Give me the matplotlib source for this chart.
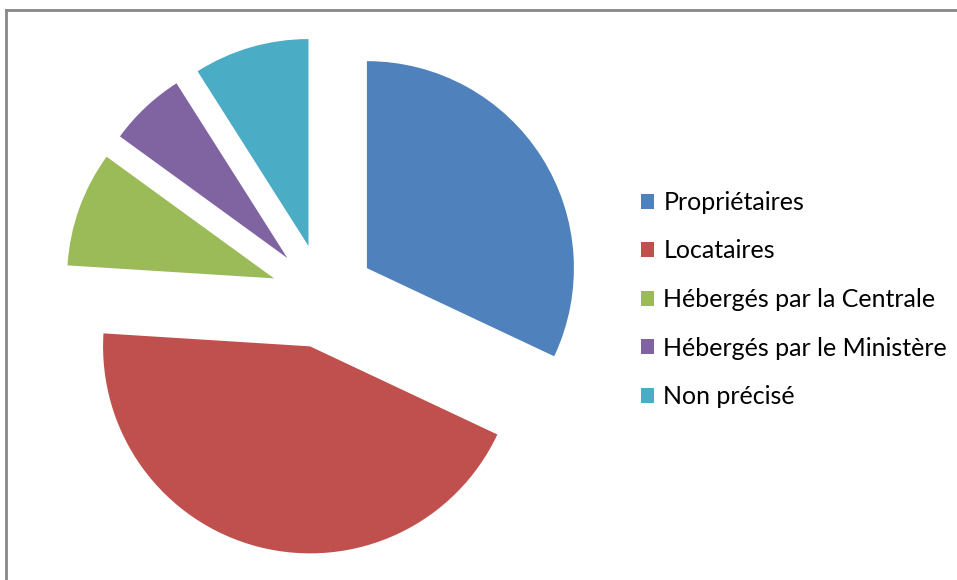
import matplotlib
matplotlib.use("Agg")
import matplotlib.pyplot as plt
from matplotlib.patches import Patch
from matplotlib.lines import Line2D

# Répartition des agents selon le statut de logement
categories = ["Propriétaires", "Locataires", "Hébergés par la Centrale",
              "Hébergés par le Ministère", "Non précisé"]
values = [32, 44, 9, 6, 9]
colors = ["#4F81BD", "#C0504D", "#9BBB59", "#8064A2", "#4BACC6"]

W, H = 957, 580
fig = plt.figure(figsize=(W / 100, H / 100), dpi=100)
ax = fig.add_axes([0, 0, 1, 1])
ax.set_xlim(0, W)
ax.set_ylim(0, H)
ax.set_aspect("equal")
ax.axis("off")

radius = 207
ax.pie(values, colors=colors, startangle=90, counterclock=False,
       radius=radius, center=(323, H - 296),
       explode=[52] * len(values),
       wedgeprops=dict(linewidth=0), frame=False)
ax.set_xlim(0, W)
ax.set_ylim(0, H)

# Chart frame (top and left edges visible)
ax.add_line(Line2D([5.5, W], [H - 9.5, H - 9.5], color="#878787", lw=2))
ax.add_line(Line2D([5.5, 5.5], [0, H - 9.5], color="#878787", lw=2))

handles = [Patch(facecolor=c, edgecolor="none") for c in colors]
ax.legend(handles, categories, loc="upper left",
          bbox_to_anchor=(641, H - 191), bbox_transform=ax.transData,
          frameon=False, handlelength=0.53, handleheight=0.53,
          handletextpad=0.36, labelspacing=1.02, borderpad=0,
          borderaxespad=0,
          prop=dict(family="Lato", size=18), labelcolor="#000000")

fig.savefig("out.png", dpi=100)
